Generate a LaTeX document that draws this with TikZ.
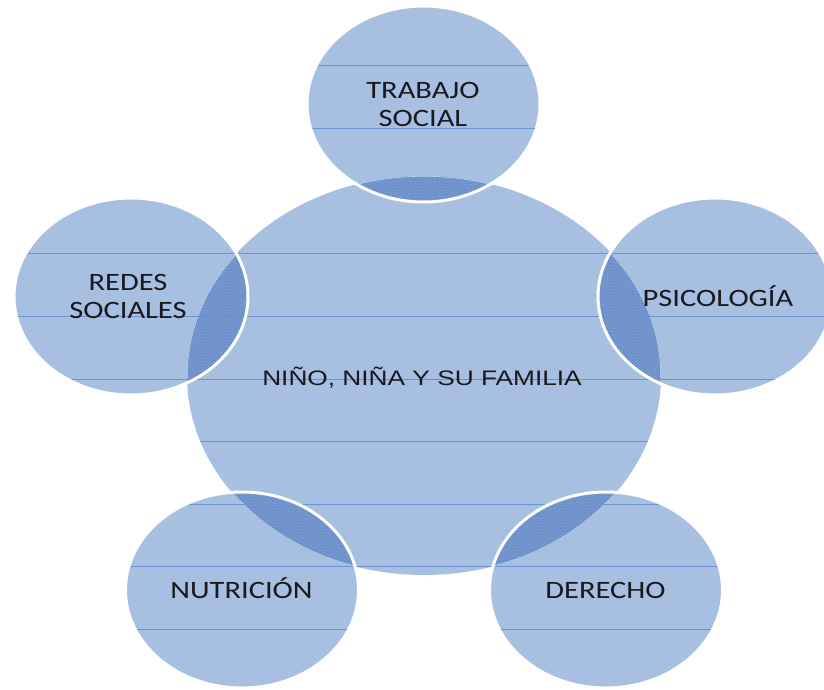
\documentclass[tikz,border=0pt]{standalone}
\usepackage{fontspec}
\usepackage{graphicx}
\newfontfamily\calfont{Carlito}
\newfontfamily\arifont{Liberation Sans}
\usetikzlibrary{patterns}
\definecolor{basefill}{RGB}{167,192,225}
\definecolor{overfill}{RGB}{126,159,211}
\definecolor{hatchc}{RGB}{104,140,200}
\definecolor{linec}{RGB}{108,147,206}
\definecolor{rimc}{RGB}{198,215,238}
\definecolor{txtc}{RGB}{25,25,30}
\newcommand{\hstr}[1]{\scalebox{1.22}[1]{#1}}
\newcommand{\hstrc}[1]{\scalebox{1.25}[1]{#1}}
\begin{document}
\begin{tikzpicture}[x=1pt,y=-1pt,
  satlabel/.style={font=\calfont\fontsize{25}{28}\selectfont, text=txtc, align=center, inner sep=0pt},
  cenlabel/.style={font=\arifont\fontsize{21}{24}\selectfont, text=txtc, inner sep=0pt},
  hline/.style={draw=linec, line width=1pt},
  satrim/.style={draw=white, line width=3pt},
  cenrim/.style={draw=rimc, line width=1.2pt}]
\useasboundingbox (0,0) rectangle (824,690);
\def\cen{(424,375.5) ellipse [x radius=237, y radius=199.5]}
\def\sts{(423.5,104) ellipse [x radius=116.5, y radius=98]}
\def\srs{(131,296.5) ellipse [x radius=117, y radius=98.5]}
\def\sps{(715,296.5) ellipse [x radius=117, y radius=98.5]}
\def\sns{(242,590) ellipse [x radius=116.5, y radius=98]}
\def\sds{(606,590) ellipse [x radius=116.5, y radius=98]}
% base fills
\fill[basefill] \cen;
\foreach \s in {\sts,\srs,\sps,\sns,\sds} {\fill[basefill] \s;}
% overlaps
\foreach \s in {\sts,\srs,\sps,\sns,\sds} {
  \begin{scope}
    \clip \cen;
    \fill[overfill] \s;
    \fill[pattern=crosshatch, pattern color=hatchc] \s;
    \clip \s;
    \draw[cenrim] \cen;
  \end{scope}
}
% horizontal lines
\foreach \s in {\cen,\sts,\srs,\sps,\sns,\sds} {
  \begin{scope}
    \clip \s;
    \foreach \yy in {66,128.5,253.5,316,379,441.5,504,566.5,629}
      \draw[hline] (0,\yy) -- (824,\yy);
  \end{scope}
}
% white rims of satellites
\foreach \s in {\sts,\srs,\sps,\sns,\sds} {\draw[satrim] \s;}
% labels
\node[cenlabel, anchor=base] (familia) at (422,385) {\hstrc{NIÑO, NIÑA Y SU FAMILIA}};
\node[satlabel] (trabajo) at (423,104) {\hstr{TRABAJO}\\\hstr{SOCIAL}};
\node[satlabel] (redes) at (128,296) {\hstr{REDES}\\\hstr{SOCIALES}};
\node[satlabel, anchor=base] (psico) at (718,306) {\hstr{PSICOLOGÍA}};
\node[satlabel, anchor=base] (nutri) at (241.5,598) {\hstr{NUTRICIÓN}};
\node[satlabel, anchor=base] (derecho) at (605.5,598) {\hstr{DERECHO}};
\end{tikzpicture}
\end{document}
